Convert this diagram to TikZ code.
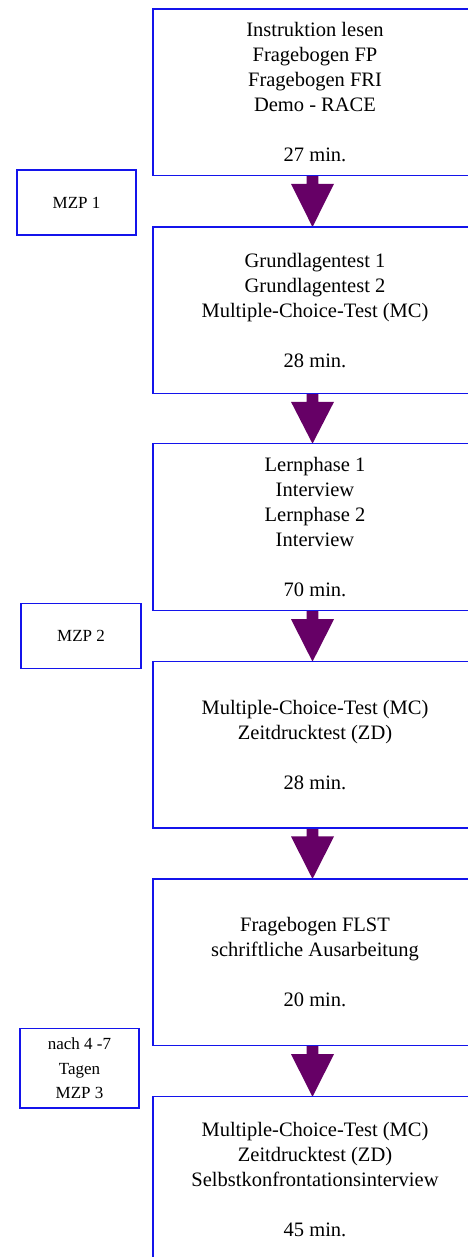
\documentclass[tikz,border=0pt]{standalone}
\usepackage{fontspec}
\setmainfont{Liberation Serif}
\usetikzlibrary{calc}
\definecolor{boxblue}{RGB}{20,20,235}
\definecolor{arrowpurple}{RGB}{102,0,102}
\pgfdeclarelayer{bg}
\pgfsetlayers{bg,main}
\newcommand\flowarrow[2]{%
  \begin{pgfonlayer}{bg}
  \fill[arrowfill] let \p1=(#1.south), \p2=(#2.north) in
    (\x1-8.3pt,\y1) -- (\x1-8.3pt,\y1-8.5pt) -- (\x1-24pt,\y1-8.5pt) --
    (\x1-2.5pt,\y2) -- (\x1+19pt,\y1-8.5pt) -- (\x1+3.3pt,\y1-8.5pt) --
    (\x1+3.3pt,\y1) -- cycle;
  \end{pgfonlayer}}
\begin{document}
\begin{tikzpicture}[x=1pt,y=-1pt,
  mainbox/.style={draw=boxblue,line width=1.3pt,rectangle,inner sep=0pt,outer sep=0pt,
    minimum width=324pt,align=center,font={\fontsize{20.5}{25}\selectfont}},
  sidebox/.style={draw=boxblue,line width=1.3pt,rectangle,inner sep=0pt,outer sep=0pt,
    align=center,font={\fontsize{17}{24.7}\selectfont}},
  arrowfill/.style={fill=arrowpurple}]
\useasboundingbox (0,0) rectangle (468,1257);
\clip (0,0) rectangle (468,1257);
\node[mainbox,minimum height=166.3pt] (b1) at (315,92.2)
  {Instruktion lesen\\Fragebogen FP\\Fragebogen FRI\\Demo - RACE\\[25pt]27 min.};
\node[mainbox,minimum height=166.3pt] (b2) at (315,310.2)
  {Grundlagentest 1\\Grundlagentest 2\\Multiple-Choice-Test (MC)\\[25pt]28 min.};
\node[mainbox,minimum height=167pt] (b3) at (315,527.2)
  {Lernphase 1\\Interview\\Lernphase 2\\Interview\\[25pt]70 min.};
\node[mainbox,minimum height=166.3pt] (b4) at (315,744.8)
  {Multiple-Choice-Test (MC)\\Zeitdrucktest (ZD)\\[25pt]28 min.};
\node[mainbox,minimum height=166.7pt] (b5) at (315,962.3)
  {Fragebogen FLST\\schriftliche Ausarbeitung\\[25pt]20 min.};
\node[mainbox,minimum height=166.5pt] (b6) at (315,1180)
  {Multiple-Choice-Test (MC)\\Zeitdrucktest (ZD)\\Selbstkonfrontationsinterview\\[25pt]45 min.};
\node[sidebox,minimum width=119pt,minimum height=65pt] (m1) at (76.5,202.5) {MZP 1};
\node[sidebox,minimum width=120pt,minimum height=65pt] (m2) at (81,636.2) {MZP 2};
\node[sidebox,minimum width=119pt,minimum height=79.3pt] (m3) at (79.5,1068.3) {nach 4 -7\\Tagen\\MZP 3};
\flowarrow{b1}{b2}
\flowarrow{b2}{b3}
\flowarrow{b3}{b4}
\flowarrow{b4}{b5}
\flowarrow{b5}{b6}
\end{tikzpicture}
\end{document}
